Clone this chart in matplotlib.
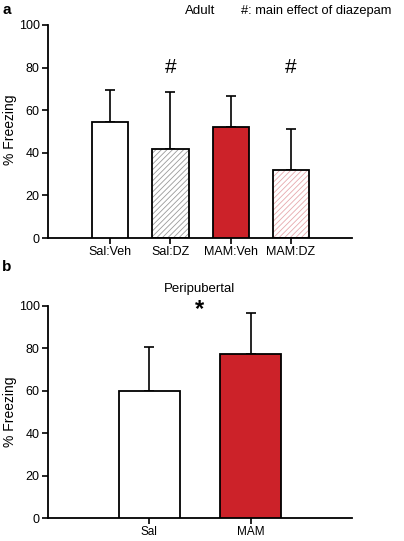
import numpy as np
import matplotlib.pyplot as plt

plt.rcParams['font.family'] = ['Liberation Sans', 'DejaVu Sans']
plt.rcParams['hatch.linewidth'] = 0.6

# panel a: adult
adult_groups = ["Sal:Veh", "Sal:DZ", "MAM:Veh", "MAM:DZ"]
adult_mean = [54.5, 42, 52, 32]
adult_sem = [15, 26.5, 14.5, 19]
adult_hash = [False, True, False, True]

# panel b: peripubertal
peri_groups = ["Sal", "MAM"]
peri_mean = [60, 77.5]
peri_sem = [20.5, 19]

red = "#cc2229"
fig = plt.figure(figsize=(4.04, 5.41), dpi=100)


def style_axes(ax):
    for s in ["top", "right"]:
        ax.spines[s].set_visible(False)
    for s in ["left", "bottom"]:
        ax.spines[s].set_linewidth(1.3)
    ax.set_ylim(0, 100)
    ax.set_yticks([0, 20, 40, 60, 80, 100])
    ax.tick_params(axis="both", direction="out", length=4, width=1.2, labelsize=9, pad=2)


def bars(ax, x, mean, sem, fill, hatch_col, width):
    for xi, m, e, fc, hc in zip(x, mean, sem, fill, hatch_col):
        if hc is not None:
            ax.bar(xi, m, width, color="white", edgecolor=hc, hatch="//////", linewidth=0, zorder=2)
            ax.bar(xi, m, width, color="none", edgecolor="black", linewidth=1.3, zorder=3)
        else:
            ax.bar(xi, m, width, color=fc, edgecolor="black", linewidth=1.3, zorder=3)
        ax.errorbar(xi, m, yerr=[[0], [e]], color="black", capsize=3.5, elinewidth=1.2,
                    capthick=1.2, zorder=1)


# panel a
ax1 = fig.add_axes([0.119, 0.560, 0.752, 0.394])
xa = np.arange(len(adult_groups))
bars(ax1, xa, adult_mean, adult_sem, ["white", None, red, None],
     [None, "#9a9a9a", None, "#e6a9ad"], 0.6)
ax1.set_xlim(-1.03, 4.01)
ax1.set_xticks(xa)
ax1.set_xticklabels(adult_groups)
style_axes(ax1)
for xi, h in zip(xa, adult_hash):
    if h:
        ax1.text(xi, 80, "#", ha="center", va="center", fontsize=15)
ax1.text(0.5, 1.066, "Adult", transform=ax1.transAxes, ha="center", va="center", fontsize=9.5)
ax1.text(1.13, 1.066, "#: main effect of diazepam", transform=ax1.transAxes, ha="right",
         va="center", fontsize=9.3)
fig.text(10 / 404, 0.76, "% Freezing", rotation=90, ha="center", va="center", fontsize=10)
fig.text(0.005, 0.995, "a", fontsize=11, fontweight="bold", ha="left", va="top")

# panel b
ax2 = fig.add_axes([0.119, 0.0425, 0.752, 0.392])
xb = np.arange(len(peri_groups))
bars(ax2, xb, peri_mean, peri_sem, ["white", red], [None, None], 0.6)
ax2.set_xlim(-1.0, 2.0)
ax2.set_xticks(xb)
ax2.set_xticklabels(peri_groups)
style_axes(ax2)
ax2.tick_params(axis="x", labelsize=8.5)
ax2.text(0.5, 1.08, "Peripubertal", transform=ax2.transAxes, ha="center", va="center", fontsize=9.5)
ax2.text(0.5, 98.5, "*", ha="center", va="center", fontsize=17, fontweight="bold")
fig.text(10 / 404, 0.238, "% Freezing", rotation=90, ha="center", va="center", fontsize=10)
fig.text(0.005, 0.52, "b", fontsize=11, fontweight="bold", ha="left", va="top")

fig.savefig("out.png", dpi=100)
